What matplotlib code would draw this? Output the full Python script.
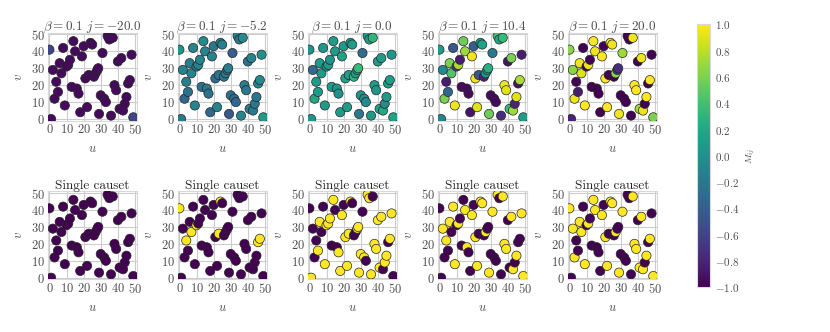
import numpy as np
import matplotlib
matplotlib.use("Agg")
import matplotlib.pyplot as plt
import seaborn as sns

sns.set_style("whitegrid")
plt.rcParams["font.family"] = ["cmr10", "DejaVu Serif"]
plt.rcParams["mathtext.fontset"] = "cm"
plt.rcParams["axes.formatter.use_mathtext"] = True
plt.rcParams["font.size"] = 9

# causet element coordinates
u = [0, 1, 2, 3, 4, 5, 6, 7, 8, 9, 10, 11, 12, 13, 14, 15, 16, 17, 18, 19, 20,
     21, 22, 23, 24, 25, 26, 27, 28, 28.5, 29, 30, 31, 32, 33, 34, 35, 36, 37,
     38, 39, 40, 41, 42, 43, 44, 45, 46, 47, 48, 49]
v = [41, 0, 29, 12, 22, 16, 33, 27, 42, 8, 31, 32, 35, 19, 46, 40, 18, 15, 4, 37,
     43, 24, 7, 26, 45, 44, 25, 27, 29, 30, 3, 14, 39, 12, 10, 49, 47, 2, 48,
     20, 17, 34, 6, 36, 5, 9, 13, 21, 23, 38, 1]

beta = 0.1
j_values = [-20.0, -5.2, 0.0, 10.4, 20.0]

# averaged M_ij per j (top row)
m_avg_j1 = [-0.6] + [-0.95] * 49 + [-0.6]
m_avg_j2 = [0.05, -0.2, -0.1, -0.35, -0.15, -0.25, -0.15, -0.1, -0.1, -0.1, -0.15,
            -0.1, -0.1, -0.25, -0.05, -0.1, -0.2, -0.25, -0.35, -0.1, -0.2, -0.3,
            -0.1, -0.25, -0.1, -0.15, -0.2, -0.2, -0.2, -0.15, -0.45, -0.25, -0.4,
            -0.3, -0.35, -0.1, -0.2, -0.1, -0.05, -0.15, -0.2, -0.25, -0.15, -0.1,
            -0.2, -0.2, -0.2, -0.1, -0.05, 0.0, 0.1]
m_avg_j3 = [0.0, 0.05, -0.3, 0.2, 0.1, 0.1, 0.1, 0.1, 0.05, 0.1, 0.05, 0.1,
            0.05, 0.1, 0.1, 0.1, 0.05, 0.0, 0.1, 0.15, 0.1, 0.15, 0.1, 0.1, 0.1,
            0.1, 0.3, 0.1, 0.15, 0.35, -0.2, 0.05, -0.3, 0.0, -0.05, 0.1, 0.1,
            0.1, 0.3, 0.1, 0.05, 0.1, 0.15, 0.1, 0.2, -0.05, 0.1, 0.1, 0.1,
            0.05, 0.15]
m_avg_j4 = [0.1, -0.1, -0.05, 0.6, -0.85, -0.35, 0.6, 0.45, -0.45, 0.95, -0.7,
            0.75, -0.85, -0.95, 0.55, 0.7, -0.95, -0.95, -0.9, 0.95, -0.4, 0.95,
            0.9, -0.5, 0.1, 0.15, -0.8, 0.05, 0.15, 0.25, 0.55, -0.95, -0.2, -0.95,
            -0.95, 0.4, 0.2, -0.75, 0.35, 0.95, 0.9, -0.9, 0.35, 0.6, 0.7, -0.8,
            0.9, -0.9, 0.75, -0.85, 0.1]
m_avg_j5 = [0.65, -0.8, 0.65, 0.95, -1, -0.85, 0.95, 0.9, -1, 1, -1, 0.95, -1, -1,
            1, 0.95, -1, -1, -1, 1, -1, 1, 1, -1, 1, 0.95, -1, 0.65, -0.7, -0.75,
            0.95, -1, 0.7, -1, -1, -1, -1, -1, 0.95, 1, 1, -1, 0.7, 0.95, 0.95, -1,
            1, -1, 1, -1, 0.6]

# single causet M_ij per j (bottom row), +1 yellow / -1 purple
m_one_j1 = [-1] * 51
m_one_j2 = [1, -1, -1, -1, 1, -1, -1, 1, -1, -1, 1, -1, -1, -1, -1, -1, -1, -1,
            -1, -1, -1, -1, -1, 1, 1, -1, -1, -1, -1, -1, -1, -1, -1, -1, -1, -1,
            -1, -1, -1, -1, -1, -1, -1, -1, -1, -1, -1, 1, 1, -1, -1]
m_one_j3 = [-1, 1, -1, -1, -1, 1, 1, -1, -1, 1, 1, 1, 1, -1, 1, -1, -1, 1, 1, 1,
            -1, 1, 1, 1, 1, -1, -1, -1, 1, 1, 1, 1, -1, 1, -1, 1, 1, 1, -1, 1, 1,
            1, 1, 1, -1, 1, 1, -1, 1, 1, -1]
m_one_j4 = [-1, -1, 1, -1, 1, -1, 1, -1, 1, 1, -1, 1, -1, -1, -1, 1, 1, -1, -1, 1,
            -1, 1, 1, -1, 1, 1, -1, 1, -1, -1, 1, -1, 1, -1, -1, 1, -1, -1, 1, 1,
            1, -1, -1, 1, 1, -1, 1, -1, -1, 1, 1]
m_one_j5 = [1, -1, 1, 1, -1, -1, 1, 1, -1, 1, -1, 1, -1, -1, 1, 1, -1, -1, -1, 1,
            -1, 1, 1, -1, 1, 1, -1, 1, -1, -1, 1, -1, 1, -1, -1, -1, -1, -1, 1, 1,
            1, -1, 1, 1, 1, -1, 1, -1, 1, -1, 1]

top_rows = [m_avg_j1, m_avg_j2, m_avg_j3, m_avg_j4, m_avg_j5]
bottom_rows = [m_one_j1, m_one_j2, m_one_j3, m_one_j4, m_one_j5]

fig = plt.figure(figsize=(8.3, 3.32), dpi=100)

ax_w, ax_h = 89 / 830, 88 / 332
left0 = 47.7 / 830
dx = 130 / 830
bottoms = [1 - 120.7 / 332, 1 - 279.4 / 332]

sc = None
for r, (rows, bot) in enumerate(zip([top_rows, bottom_rows], bottoms)):
    for c in range(5):
        ax = fig.add_axes([left0 + c * dx, bot, ax_w, ax_h])
        sc = ax.scatter(u, v, c=rows[c], cmap="viridis", vmin=-1, vmax=1,
                        s=44, edgecolors="0.15", linewidths=0.5, zorder=3)
        ax.set_xlim(-1, 51)
        ax.set_ylim(-1, 51)
        ax.set_xticks([0, 10, 20, 30, 40, 50])
        ax.set_yticks([0, 10, 20, 30, 40, 50])
        ax.tick_params(labelsize=9, pad=2, colors="0.3", length=0)
        ax.set_xlabel(r"$u$", fontsize=9, color="0.3")
        ax.set_ylabel(r"$v$", fontsize=9, color="0.3")
        for s in ax.spines.values():
            s.set_color("0.85")
        if r == 0:
            ax.set_title(r"$\beta = 0.1\ j = %.1f$" % j_values[c], fontsize=9.5,
                         pad=2, color="0.3")
        else:
            ax.set_title("Single causet", fontsize=9.5, pad=2, color="0.15")

cax = fig.add_axes([696.7 / 830, 1 - 287.3 / 332, 13.3 / 830, 263 / 332])
cb = fig.colorbar(sc, cax=cax)
cb.set_ticks(np.arange(-1.0, 1.01, 0.2))
cb.ax.tick_params(labelsize=8, colors="0.3", length=0)
cb.outline.set_edgecolor("0.85")
cb.set_label(r"$M_{ij}$", fontsize=7, color="0.3")

fig.savefig("out.png", dpi=100)
